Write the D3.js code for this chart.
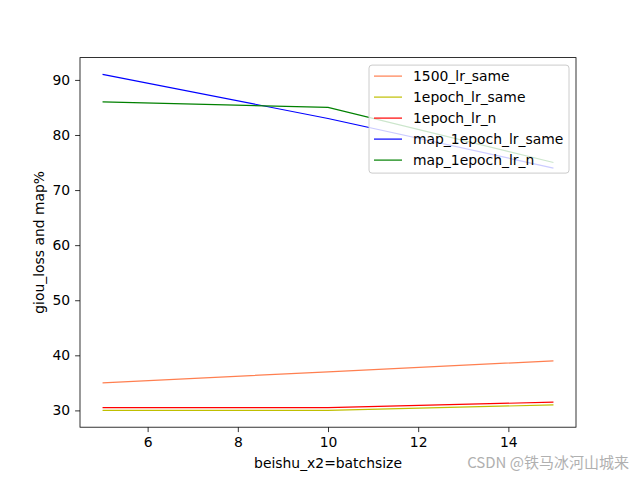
<!DOCTYPE html>
<html>
<head>
<meta charset="utf-8">
<script src="https://cdn.jsdelivr.net/npm/d3@7"></script>
<style>
  body { margin: 0; background: #fff; }
  svg { font-family: "DejaVu Sans", sans-serif; }
</style>
</head>
<body>
<svg width="640" height="480"></svg>
<script>
(function () {
    'use strict'

    const batch = [5, 10, 15];
    const names = ['1500_lr_same', '1epoch_lr_same', '1epoch_lr_n', 'map_1epoch_lr_same', 'map_1epoch_lr_n'];
    const colors = ['coral', '#bfbf00', 'red', 'blue', 'green'];
    const s1500LrSame = [35, 37, 39];
    const s1epochLrSame = [30, 30, 31];
    const s1epochLrN = [30.5, 30.5, 31.5];
    const mapLrSame = [91, 83, 74];
    const mapLrN = [86, 85, 75];
    const xTicks = [6, 8, 10, 12, 14];
    const yTicks = [30, 40, 50, 60, 70, 80, 90];

    const series = [s1500LrSame, s1epochLrSame, s1epochLrN, mapLrSame, mapLrN];

    let svg = d3.select('svg'),
        margin = { top: 57.6, right: 64, bottom: 52.8, left: 80 },
        width = +svg.attr('width') - margin.left - margin.right,
        height = +svg.attr('height') - margin.top - margin.bottom,
        g = svg.append('g').attr('transform', 'translate(' + margin.left + ',' + margin.top + ')');

    // matplotlib style 5% padding on both axes
    let x = d3.scaleLinear().domain([4.5, 15.5]).range([0, width]);
    let y = d3.scaleLinear().domain([26.95, 94.05]).range([height, 0]);

    let line = d3.line()
        .x((d, i) => x(batch[i]))
        .y(d => y(d));

    series.forEach((s, k) => {
        g.append('path')
            .datum(s)
            .attr('fill', 'none')
            .attr('stroke', colors[k])
            .attr('stroke-width', 1.2)
            .attr('d', line);
    });

    let xAxis = d3.axisBottom(x).tickValues(xTicks).tickSize(4.9).tickPadding(4.9).tickFormat(d3.format('d'));
    let yAxis = d3.axisLeft(y).tickValues(yTicks).tickSize(4.9).tickPadding(4.9).tickFormat(d3.format('d'));

    let gx = g.append('g')
        .attr('transform', 'translate(0,' + height + ')')
        .call(xAxis);
    let gy = g.append('g').call(yAxis);

    [gx, gy].forEach(a => {
        a.select('.domain').remove();
        a.selectAll('line').attr('stroke', '#000').attr('stroke-width', 0.8);
        a.selectAll('text').attr('fill', '#000').style('font-size', '13.9px')
            .style('font-family', '"DejaVu Sans", sans-serif');
    });

    g.append('rect')
        .attr('width', width)
        .attr('height', height)
        .attr('fill', 'none')
        .attr('stroke', '#000')
        .attr('stroke-width', 0.8);

    svg.append('text')
        .attr('x', margin.left + width / 2)
        .attr('y', 468)
        .attr('text-anchor', 'middle')
        .style('font-size', '13.9px')
        .text('beishu_x2=batchsize');

    svg.append('text')
        .attr('transform', 'translate(44,' + (margin.top + height / 2) + ') rotate(-90)')
        .attr('text-anchor', 'middle')
        .style('font-size', '13.9px')
        .text('giou_loss and map%');

    // legend, upper right
    let lg = g.append('g').attr('transform', 'translate(' + (width - 207) + ',7.5)');
    lg.append('rect')
        .attr('width', 200)
        .attr('height', 108)
        .attr('rx', 3)
        .attr('fill', 'white')
        .attr('fill-opacity', 0.8)
        .attr('stroke', '#cccccc')
        .attr('stroke-width', 1);

    names.forEach((n, k) => {
        let row = lg.append('g').attr('transform', 'translate(0,' + (11 + k * 21) + ')');
        row.append('line')
            .attr('x1', 5).attr('x2', 33)
            .attr('stroke', colors[k])
            .attr('stroke-width', 1.2);
        row.append('text')
            .attr('x', 44)
            .attr('dy', '0.35em')
            .style('font-size', '13.9px')
            .text(n);
    });

    // watermark
    svg.append('text')
        .attr('x', 629)
        .attr('y', 468)
        .attr('text-anchor', 'end')
        .attr('fill', '#b0b0b0')
        .style('font-size', '15px')
        .style('font-family', '"Noto Sans CJK SC", sans-serif')
        .text('CSDN @铁马冰河山城来');
})();
</script>
</body>
</html>
